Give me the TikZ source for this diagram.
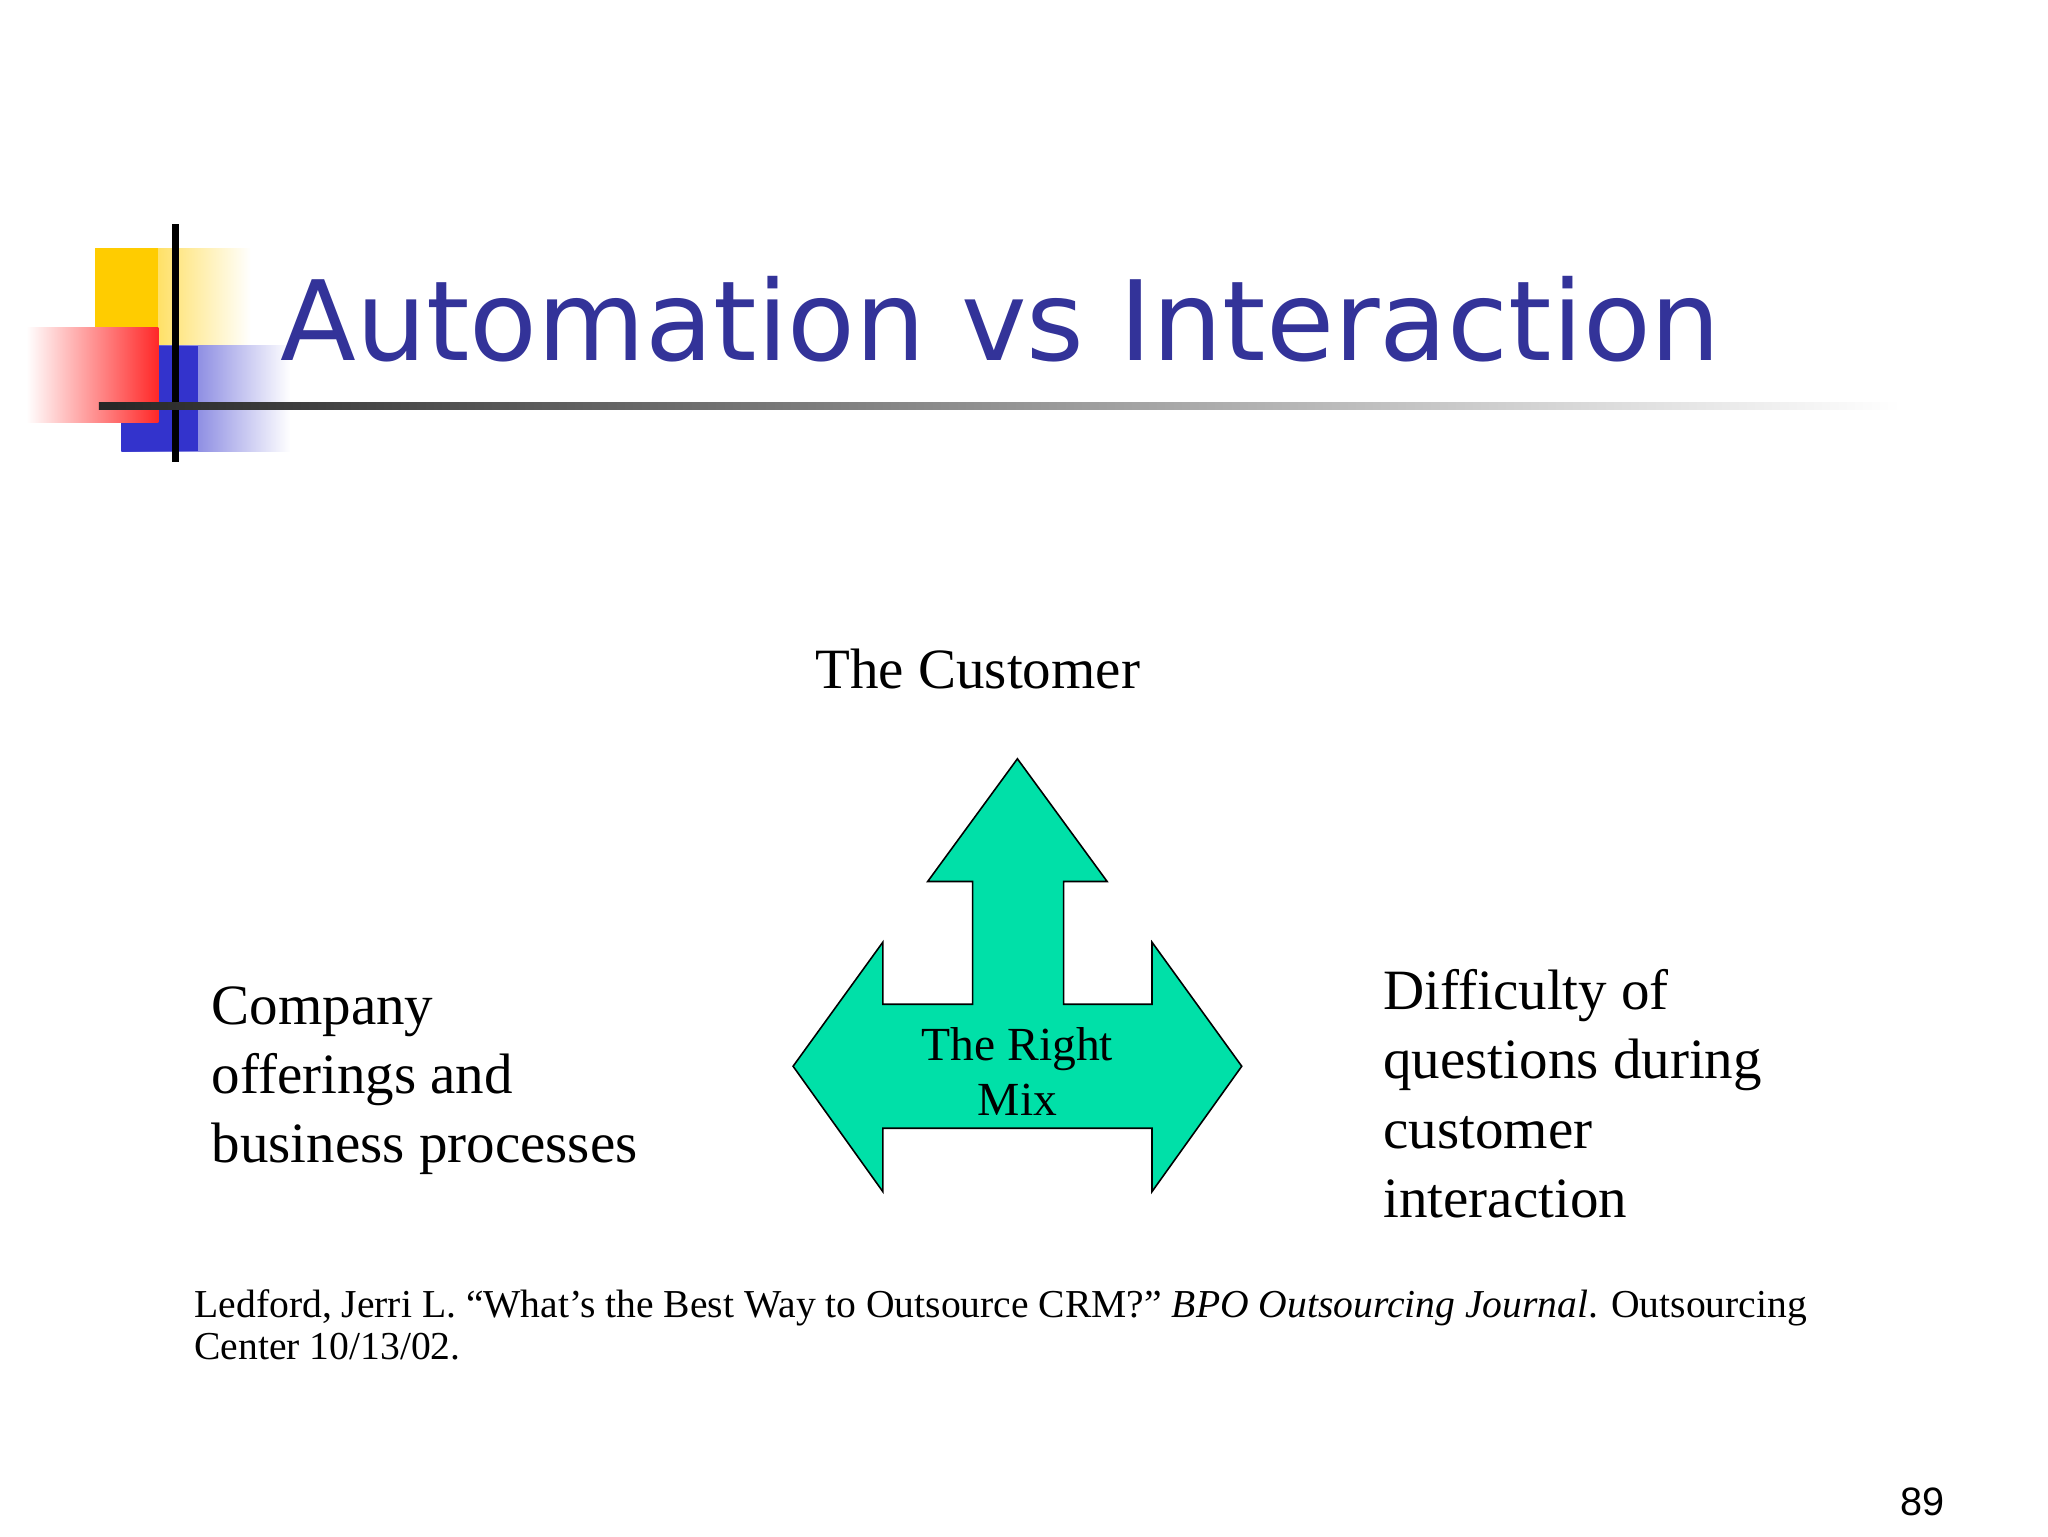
\documentclass[tikz,border=0pt]{standalone}
\usepackage{fontspec}
\setmainfont{Liberation Serif}
\newfontfamily\titlefont{DejaVu Sans}
\newfontfamily\pnfont{Liberation Sans}
\definecolor{titleblue}{RGB}{51,51,153}
\definecolor{mint}{RGB}{0,224,168}
\definecolor{logoyellow}{RGB}{255,204,0}
\definecolor{logored}{RGB}{255,40,40}
\definecolor{logoblue}{RGB}{51,51,204}
\begin{document}
\begin{tikzpicture}[x=0.5pt,y=-0.5pt,
  body/.style={font=\fontsize{21.6}{26.3}\selectfont,align=left,anchor=north west,inner sep=0pt}]
\useasboundingbox[fill=white] (0,0) rectangle (1552,1164);
% logo
\shade[left color=logoyellow,right color=white] (72,188) rectangle (190,262);
\fill[logoyellow] (72,188) rectangle (120,262);
\shade[left color=logoblue,right color=white] (92,262) rectangle (220,342);
\fill[logoblue] (92,262) rectangle (150,342);
\shade[right color=logored,left color=white] (20,248) rectangle (120,320);
\draw[line width=2.5pt] (133,170) -- (133,350);
\shade[left color=black!85,right color=white] (75,305) rectangle (1440,310);
\node[anchor=west,text=titleblue,inner sep=0pt,font=\titlefont\fontsize{42}{44}\selectfont] (title) at (212,242) {Automation vs Interaction};
% arrow
\draw[fill=mint,line width=0.6pt] (771,575) -- (839,668) -- (806,668) -- (806,761) -- (873,761) -- (873,714) -- (941,808) -- (873,903) -- (873,855) -- (669,855) -- (669,903) -- (601,808) -- (669,714) -- (669,761) -- (737,761) -- (737,668) -- (703,668) -- cycle;
\node[align=center,font=\fontsize{18}{21}\selectfont,inner sep=0pt] (mix) at (771,812) {The Right\\Mix};
\node[font=\fontsize{21.6}{26}\selectfont,inner sep=0pt] (cust) at (741,507) {The Customer};
\node[body] (comp) at (160,747) {Company\\offerings and\\business processes};
\node[body] (diff) at (1048,734) {Difficulty of\\questions during\\customer\\interaction};
\node[anchor=north west,align=left,inner sep=0pt,font=\fontsize{15}{16}\selectfont] (cite) at (147,977) {Ledford, Jerri L. “What’s the Best Way to Outsource CRM?” \textit{BPO Outsourcing Journal}. Outsourcing\\Center 10/13/02.};
\node[font=\pnfont\fontsize{15}{18}\selectfont,inner sep=0pt] (pn) at (1457,1138) {89};
\end{tikzpicture}
\end{document}
